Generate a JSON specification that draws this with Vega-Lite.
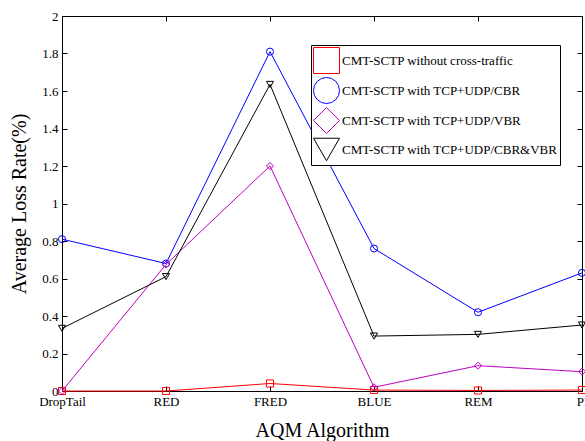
{
  "$schema": "https://vega.github.io/schema/vega-lite/v6.json",
  "width": 520,
  "height": 375,
  "autosize": {"type": "none"},
  "padding": {"left": 62, "top": 16, "right": 3, "bottom": 50},
  "background": "white",
  "config": {
    "font": "Liberation Serif",
    "view": {"stroke": "black", "strokeWidth": 1},
    "axis": {"grid": false, "domainColor": "black", "tickColor": "black", "labelColor": "black", "titleColor": "black", "labelFont": "Liberation Serif", "titleFont": "Liberation Serif", "labelFontSize": 13, "titleFontSize": 20, "titleFontWeight": "normal", "tickSize": -5, "domainWidth": 1, "tickWidth": 1, "labelOverlap": false, "labelBound": false, "labelFlush": false}
  },
  "data": {
    "values": [
      {"alg": "DropTail", "series": "CMT-SCTP without cross-traffic", "v": 0},
      {"alg": "RED", "series": "CMT-SCTP without cross-traffic", "v": 0},
      {"alg": "FRED", "series": "CMT-SCTP without cross-traffic", "v": 0.04},
      {"alg": "BLUE", "series": "CMT-SCTP without cross-traffic", "v": 0.005},
      {"alg": "REM", "series": "CMT-SCTP without cross-traffic", "v": 0.003},
      {"alg": "PI", "series": "CMT-SCTP without cross-traffic", "v": 0.005},
      {"alg": "DropTail", "series": "CMT-SCTP with TCP+UDP/CBR", "v": 0.81},
      {"alg": "RED", "series": "CMT-SCTP with TCP+UDP/CBR", "v": 0.68},
      {"alg": "FRED", "series": "CMT-SCTP with TCP+UDP/CBR", "v": 1.81},
      {"alg": "BLUE", "series": "CMT-SCTP with TCP+UDP/CBR", "v": 0.76},
      {"alg": "REM", "series": "CMT-SCTP with TCP+UDP/CBR", "v": 0.42},
      {"alg": "PI", "series": "CMT-SCTP with TCP+UDP/CBR", "v": 0.63},
      {"alg": "DropTail", "series": "CMT-SCTP with TCP+UDP/VBR", "v": 0},
      {"alg": "RED", "series": "CMT-SCTP with TCP+UDP/VBR", "v": 0.675},
      {"alg": "FRED", "series": "CMT-SCTP with TCP+UDP/VBR", "v": 1.2},
      {"alg": "BLUE", "series": "CMT-SCTP with TCP+UDP/VBR", "v": 0.02},
      {"alg": "REM", "series": "CMT-SCTP with TCP+UDP/VBR", "v": 0.135},
      {"alg": "PI", "series": "CMT-SCTP with TCP+UDP/VBR", "v": 0.103},
      {"alg": "DropTail", "series": "CMT-SCTP with TCP+UDP/CBR&VBR", "v": 0.334},
      {"alg": "RED", "series": "CMT-SCTP with TCP+UDP/CBR&VBR", "v": 0.61},
      {"alg": "FRED", "series": "CMT-SCTP with TCP+UDP/CBR&VBR", "v": 1.635},
      {"alg": "BLUE", "series": "CMT-SCTP with TCP+UDP/CBR&VBR", "v": 0.293},
      {"alg": "REM", "series": "CMT-SCTP with TCP+UDP/CBR&VBR", "v": 0.302},
      {"alg": "PI", "series": "CMT-SCTP with TCP+UDP/CBR&VBR", "v": 0.352}
    ]
  },
  "layer": [
    {
      "mark": {"type": "point", "filled": false, "strokeWidth": 1, "size": 50, "opacity": 1},
      "encoding": {
        "x": {"field": "alg", "type": "ordinal", "sort": ["DropTail", "RED", "FRED", "BLUE", "REM", "PI"], "scale": {"type": "point", "padding": 0},
          "axis": {"orient": "top", "title": null, "labels": false}},
        "y": {"field": "v", "type": "quantitative", "scale": {"domain": [0, 2], "nice": false, "zero": true},
          "axis": {"orient": "right", "title": null, "labels": false, "values": [0, 0.2, 0.4, 0.6, 0.8, 1, 1.2, 1.4, 1.6, 1.8, 2]}},
        "color": {"field": "series", "type": "nominal",
          "sort": ["CMT-SCTP without cross-traffic", "CMT-SCTP with TCP+UDP/CBR", "CMT-SCTP with TCP+UDP/VBR", "CMT-SCTP with TCP+UDP/CBR&VBR"],
          "scale": {"domain": ["CMT-SCTP without cross-traffic", "CMT-SCTP with TCP+UDP/CBR", "CMT-SCTP with TCP+UDP/VBR", "CMT-SCTP with TCP+UDP/CBR&VBR"], "range": ["#ff0000", "#0000ff", "#c000c0", "#000000"]},
          "legend": {"title": null, "orient": "none", "legendX": 249, "legendY": 29, "direction": "vertical",
            "fillColor": "white", "strokeColor": "black", "padding": 2, "rowPadding": -1, "labelLimit": 0,
            "labelFont": "Liberation Serif", "labelFontSize": 13, "labelColor": "black", "labelOffset": 2, "symbolSize": 676, "symbolStrokeWidth": 1,
            "encode": {"symbols": {
              "shape": {"value": {"signal": "datum.value == 'CMT-SCTP without cross-traffic' ? 'M-1,0H1M-0.27,-0.27H0.27V0.27H-0.27Z' : datum.value == 'CMT-SCTP with TCP+UDP/CBR' ? 'M-1,0H1M0.3,0A0.3,0.3 0 1,1 -0.3,0A0.3,0.3 0 1,1 0.3,0Z' : datum.value == 'CMT-SCTP with TCP+UDP/VBR' ? 'M-1,0H1M0,-0.35L0.3,0L0,0.35L-0.3,0Z' : 'M-1,0H1M-0.3,-0.25L0.3,-0.25L0,0.28Z'"}},
              "stroke": {"value": {"signal": "scale('color', datum.value)"}},
              "fill": {"value": "transparent"}
            }}}},
        "shape": {"field": "series", "type": "nominal", "legend": null,
          "scale": {"domain": ["CMT-SCTP without cross-traffic", "CMT-SCTP with TCP+UDP/CBR", "CMT-SCTP with TCP+UDP/VBR", "CMT-SCTP with TCP+UDP/CBR&VBR"], "range": ["square", "circle", "diamond", "triangle-down"]}}
      }
    },
    {
      "mark": {"type": "line", "strokeWidth": 1},
      "encoding": {
        "x": {"field": "alg", "type": "ordinal", "sort": ["DropTail", "RED", "FRED", "BLUE", "REM", "PI"],
          "axis": {"orient": "bottom", "title": "AQM Algorithm", "labelAngle": 0, "labelPadding": 9, "titlePadding": 12}},
        "y": {"field": "v", "type": "quantitative",
          "axis": {"orient": "left", "title": "Average Loss Rate(%)", "values": [0, 0.2, 0.4, 0.6, 0.8, 1, 1.2, 1.4, 1.6, 1.8, 2], "format": "~g", "labelPadding": 9, "titlePadding": 12}},
        "color": {"field": "series", "type": "nominal"}
      }
    }
  ]
}
